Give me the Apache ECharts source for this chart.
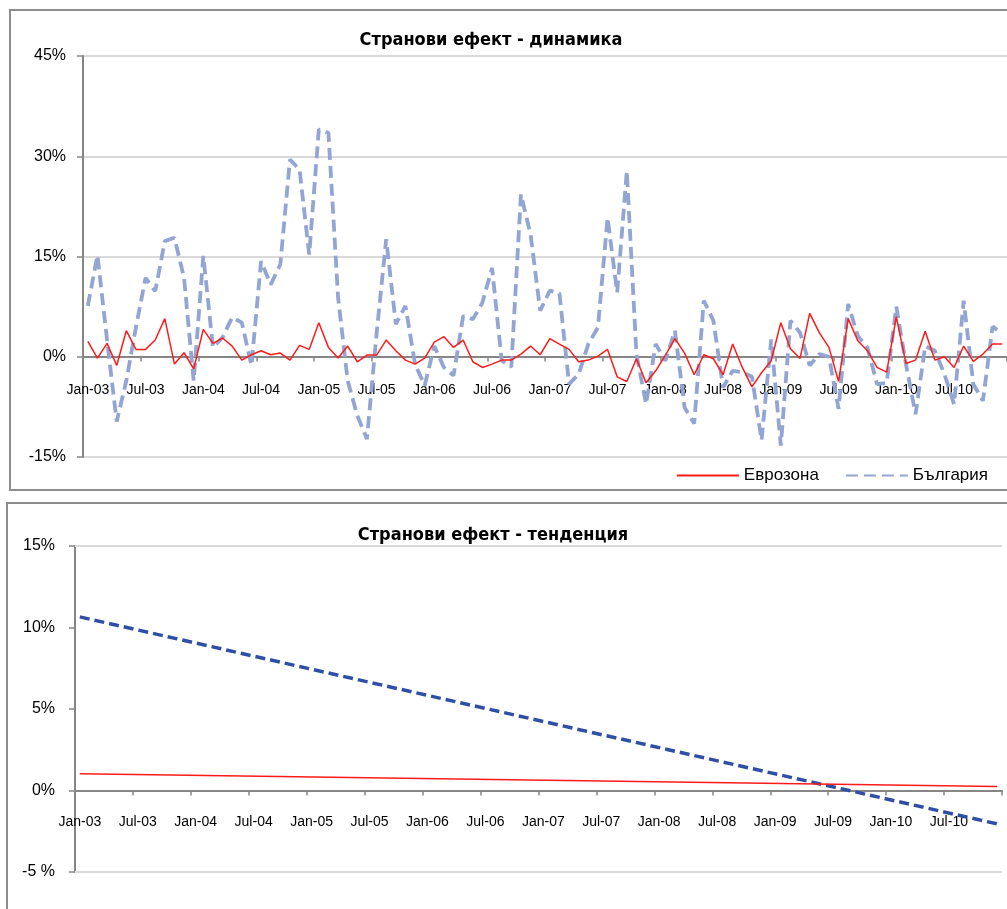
<!DOCTYPE html>
<html>
<head>
<meta charset="utf-8">
<script src="https://cdn.jsdelivr.net/npm/echarts@6/dist/echarts.min.js"></script>
<style>
html,body{margin:0;padding:0;background:#fff;}
#c{width:1007px;height:909px;}
</style>
</head>
<body>
<div id="c"></div>
<script>
const categories = [
'Jan-03','Feb-03','Mar-03','Apr-03','May-03','Jun-03','Jul-03','Aug-03','Sep-03','Oct-03','Nov-03','Dec-03',
'Jan-04','Feb-04','Mar-04','Apr-04','May-04','Jun-04','Jul-04','Aug-04','Sep-04','Oct-04','Nov-04','Dec-04',
'Jan-05','Feb-05','Mar-05','Apr-05','May-05','Jun-05','Jul-05','Aug-05','Sep-05','Oct-05','Nov-05','Dec-05',
'Jan-06','Feb-06','Mar-06','Apr-06','May-06','Jun-06','Jul-06','Aug-06','Sep-06','Oct-06','Nov-06','Dec-06',
'Jan-07','Feb-07','Mar-07','Apr-07','May-07','Jun-07','Jul-07','Aug-07','Sep-07','Oct-07','Nov-07','Dec-07',
'Jan-08','Feb-08','Mar-08','Apr-08','May-08','Jun-08','Jul-08','Aug-08','Sep-08','Oct-08','Nov-08','Dec-08',
'Jan-09','Feb-09','Mar-09','Apr-09','May-09','Jun-09','Jul-09','Aug-09','Sep-09','Oct-09','Nov-09','Dec-09',
'Jan-10','Feb-10','Mar-10','Apr-10','May-10','Jun-10','Jul-10','Aug-10','Sep-10','Oct-10','Nov-10','Dec-10'
];

// Странови ефект - динамика (%)
const eurozone = [
2.3,-0.2,2.0,-1.3,3.9,1.1,1.1,2.5,5.7,-1.1,0.6,-1.8,
4.1,2.0,2.8,1.6,-0.5,0.3,0.9,0.3,0.55,-0.5,1.7,1.1,
5.1,1.4,-0.2,1.6,-0.75,0.25,0.25,2.5,0.9,-0.5,-1.1,-0.2,
2.2,3.0,1.4,2.5,-0.75,-1.6,-1.1,-0.5,-0.5,0.4,1.6,0.3,
2.7,1.9,1.1,-0.75,-0.5,0.1,1.1,-3.0,-3.7,-0.3,-3.9,-2.1,
0.2,2.7,0.55,-2.7,0.3,-0.3,-2.7,1.9,-1.6,-4.5,-2.4,-0.6,
5.1,1.2,-0.25,6.5,3.6,1.4,-3.7,5.7,2.4,0.9,-1.6,-2.3,
6.0,-1.0,-0.5,3.8,-0.5,0.0,-1.6,1.6,-0.7,0.4,1.9,1.9
];
const bulgaria = [
7.6,15.2,2.5,-9.7,-3.6,4.4,11.8,9.8,17.3,17.8,11.8,-3.6,
15.1,1.4,2.9,5.9,5.1,-1.3,14.3,10.8,13.8,29.5,28.0,15.3,
34.0,33.5,8.9,-3.6,-8.8,-12.3,3.4,17.6,4.9,7.6,-1.1,-4.3,
1.6,-1.6,-2.8,6.1,5.6,8.1,13.3,-0.6,-1.5,24.3,18.3,6.9,
9.9,9.5,-4.1,-2.6,1.9,4.4,20.8,9.6,27.8,0.4,-7.1,1.9,
-0.6,3.9,-7.6,-10.0,8.4,5.4,-4.6,-2.1,-2.3,-3.0,-12.5,2.6,
-13.3,5.4,3.6,-1.3,0.4,0.0,-7.8,7.9,3.1,1.4,-4.1,-3.9,
7.5,-1.1,-8.6,1.6,0.9,-2.6,-7.1,8.4,-4.1,-6.6,4.5,3.5
];

// Странови ефект - тенденция (%): start / end values of the trend lines
const trendEurozone = [['Jan-03', 1.03], ['Dec-10', 0.25]];
const trendBulgaria = [['Jan-03', 10.65], ['Dec-10', -2.05]];

const topTicks = {min: -15, max: 45, interval: 15};
const bottomTicks = {min: -5, max: 15, interval: 5};

const TFONT = "'Liberation Sans Narrow','DejaVu Sans Condensed','Liberation Sans',sans-serif";
const FONT = "'Liberation Sans','DejaVu Sans',sans-serif";
const AXIS = '#868686';
const GRID = '#d9d9d9';

const chart = echarts.init(document.getElementById('c'), null, {renderer: 'canvas'});

function xAxisCfg(gridIndex, offset, margin) {
  return {
    type: 'category', gridIndex: gridIndex, data: categories, boundaryGap: true,
    position: 'bottom', offset: offset,
    axisLine: {onZero: false, lineStyle: {color: AXIS, width: 2}},
    axisTick: {show: true, interval: 5, length: 5, lineStyle: {color: AXIS, width: 1.5}},
    axisLabel: {interval: 5, margin: margin, color: '#000', fontFamily: FONT, fontSize: 14},
    splitLine: {show: false}
  };
}
function yAxisCfg(gridIndex, t, grid, margin, fmt) {
  return {
    type: 'value', gridIndex: gridIndex, min: t.min, max: t.max, interval: t.interval,
    axisLine: {show: true, lineStyle: {color: AXIS, width: 2}},
    axisTick: {show: true, length: 6, lineStyle: {color: AXIS, width: 1.5}},
    axisLabel: {margin: margin, color: '#000', fontFamily: FONT, fontSize: 16, formatter: fmt},
    splitLine: {show: grid, lineStyle: {color: GRID, width: 2}}
  };
}

chart.setOption({
  animation: false,
  backgroundColor: '#fff',
  graphic: [
    {type: 'rect', shape: {x: 10, y: 10, width: 1010, height: 480}, style: {fill: 'none', stroke: '#8c8c8c', lineWidth: 2}, z: -10},
    {type: 'rect', shape: {x: 7, y: 503, width: 1010, height: 420}, style: {fill: 'none', stroke: '#8c8c8c', lineWidth: 2}, z: -10}
  ],
  title: [
    {text: 'Странови ефект - динамика', left: 486, top: 26, textAlign: 'center',
     textStyle: {fontFamily: TFONT, fontSize: 18, fontWeight: 'bold', color: '#000'}},
    {text: 'Странови ефект - тенденция', left: 488, top: 521, textAlign: 'center',
     textStyle: {fontFamily: TFONT, fontSize: 18, fontWeight: 'bold', color: '#000'}}
  ],
  legend: {
    data: ['Еврозона', 'България'], right: 14, top: 462, itemWidth: 62, itemHeight: 14, itemGap: 26,
    itemStyle: {opacity: 0},
    textStyle: {fontFamily: FONT, fontSize: 17, color: '#000'}
  },
  grid: [
    {left: 83, top: 56, right: 0, bottom: 452},
    {left: 75, top: 546, right: 5, bottom: 37}
  ],
  xAxis: [xAxisCfg(0, -100.5, 27), xAxisCfg(1, -81.5, 25)],
  yAxis: [
    yAxisCfg(0, topTicks, true, 17, v => v + '%'),
    yAxisCfg(1, bottomTicks, false, 20, v => (v < 0 ? v + ' %' : v + '%'))
  ],
  series: [
    {name: 'Еврозона', type: 'line', xAxisIndex: 0, yAxisIndex: 0, data: eurozone, symbol: 'none',
     lineStyle: {color: '#ff1a1a', width: 1.5}, itemStyle: {color: '#ff1a1a'}, z: 3},
    {name: 'България', type: 'line', xAxisIndex: 0, yAxisIndex: 0, data: bulgaria, symbol: 'none',
     lineStyle: {color: '#93a5d3', width: 3.8, type: [12, 6]}, itemStyle: {color: '#93a5d3'}, z: 2},
    {name: 'trendEZ', type: 'line', xAxisIndex: 1, yAxisIndex: 1, data: trendEurozone, symbol: 'none',
     lineStyle: {color: '#ff1a1a', width: 1.5}, z: 3,
     markLine: {silent: true, symbol: 'none', label: {show: false},
       lineStyle: {color: GRID, width: 2, type: 'solid'},
       data: [{yAxis: bottomTicks.max}, {yAxis: bottomTicks.min}]}},
    {name: 'trendBG', type: 'line', xAxisIndex: 1, yAxisIndex: 1, data: trendBulgaria, symbol: 'none',
     lineStyle: {color: '#2f4fa6', width: 3.5, type: [10, 5]}, z: 2}
  ]
});
</script>
</body>
</html>
